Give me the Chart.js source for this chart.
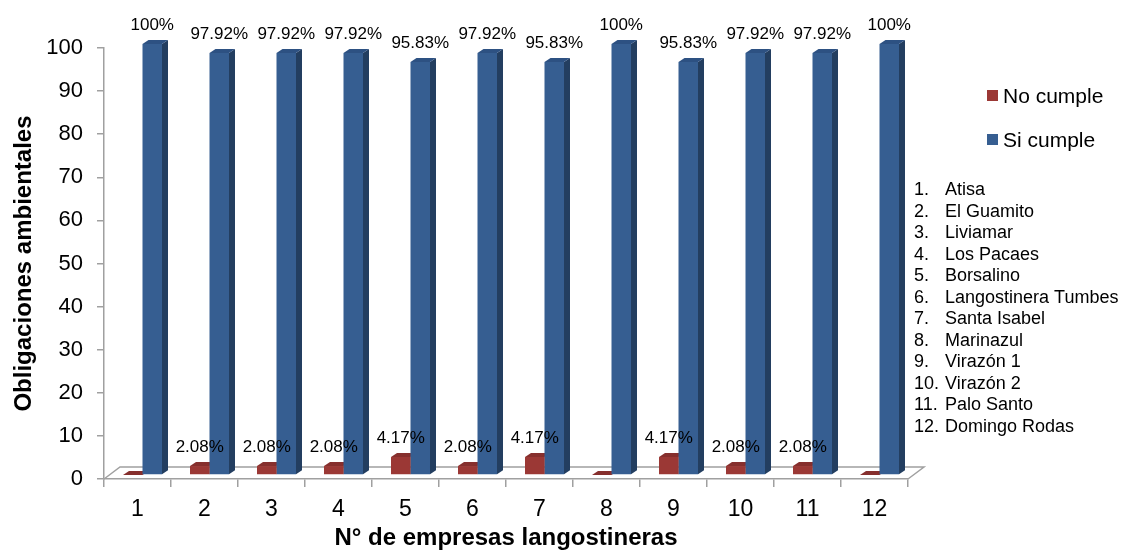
<!DOCTYPE html>
<html>
<head>
<meta charset="utf-8">
<script src="https://cdn.jsdelivr.net/npm/chart.js@4/dist/chart.umd.min.js"></script>
<style>
  html, body { margin: 0; padding: 0; background: #ffffff; }
  canvas { display: block; }
</style>
</head>
<body>
<canvas id="chart" width="1126" height="555"></canvas>
<script>
// Company numbers on the x axis
const categories = ['1', '2', '3', '4', '5', '6', '7', '8', '9', '10', '11', '12'];
// Percentage of environmental obligations per company
const noCumple = [0, 2.08, 2.08, 2.08, 4.17, 2.08, 4.17, 0, 4.17, 2.08, 2.08, 0];
const siCumple = [100, 97.92, 97.92, 97.92, 95.83, 97.92, 95.83, 100, 95.83, 97.92, 97.92, 100];
// Y axis range
const yMin = 0, yMax = 100, yStep = 10;
// Legend entries and company names
const seriesNames = ['No cumple', 'Si cumple'];
const companies = ['Atisa', 'El Guamito', 'Liviamar', 'Los Pacaes', 'Borsalino', 'Langostinera Tumbes',
  'Santa Isabel', 'Marinazul', 'Virazón 1', 'Virazón 2', 'Palo Santo', 'Domingo Rodas'];

const FONT = '"Liberation Sans", Arial, sans-serif';
const AXIS_GRAY = '#A0A0A0';

// depth of each column and of the floor
const DEPTH_X = 6, DEPTH_Y = 4;
const SHIFT_X = 5, SHIFT_Y = -4;
const FLOOR_DX = 16, FLOOR_DY = 12;

const palette = [
  { front: '#9B3835', side: '#6E2725', top: '#862F2D' },
  { front: '#365E91', side: '#233E60', top: '#2D5182' }
];

function fmt(v) {
  return (Math.round(v * 100) / 100).toString() + '%';
}

const columns3d = {
  id: 'columns3d',
  beforeDatasetsDraw(chart) {
    const ctx = chart.ctx;
    const { left, right, bottom } = chart.chartArea;
    // floor of the plot
    ctx.save();
    ctx.strokeStyle = AXIS_GRAY;
    ctx.lineWidth = 1.5;
    ctx.beginPath();
    ctx.moveTo(left, bottom);
    ctx.lineTo(left + FLOOR_DX, bottom - FLOOR_DY);
    ctx.lineTo(right + FLOOR_DX, bottom - FLOOR_DY);
    ctx.lineTo(right, bottom);
    ctx.stroke();
    ctx.restore();

    // side and top faces, fronts are drawn by the bar controller afterwards
    ctx.save();
    ctx.translate(SHIFT_X, SHIFT_Y);
    chart.data.datasets.forEach((ds, i) => {
      const meta = chart.getDatasetMeta(i);
      const col = palette[i];
      meta.data.forEach(bar => {
        const { x, y, base, width } = bar.getProps(['x', 'y', 'base', 'width'], true);
        const l = x - width / 2, r = x + width / 2;
        ctx.fillStyle = col.side;
        ctx.beginPath();
        ctx.moveTo(r, y);
        ctx.lineTo(r + DEPTH_X, y - DEPTH_Y);
        ctx.lineTo(r + DEPTH_X, base - DEPTH_Y);
        ctx.lineTo(r, base);
        ctx.closePath();
        ctx.fill();
        ctx.fillStyle = col.top;
        ctx.beginPath();
        ctx.moveTo(l, y);
        ctx.lineTo(l + DEPTH_X, y - DEPTH_Y);
        ctx.lineTo(r + DEPTH_X, y - DEPTH_Y);
        ctx.lineTo(r, y);
        ctx.closePath();
        ctx.fill();
      });
    });
  },
  afterDatasetsDraw(chart) {
    const ctx = chart.ctx;
    ctx.restore();
    // value labels
    ctx.save();
    ctx.font = '17px ' + FONT;
    ctx.fillStyle = '#000000';
    ctx.textAlign = 'center';
    ctx.textBaseline = 'alphabetic';
    chart.data.datasets.forEach((ds, i) => {
      const meta = chart.getDatasetMeta(i);
      meta.data.forEach((bar, j) => {
        const v = ds.data[j];
        if (!v) return;
        const { x, y } = bar.getProps(['x', 'y'], true);
        ctx.fillText(fmt(v), x + SHIFT_X, y + SHIFT_Y - 14);
      });
    });
    ctx.restore();
  },
  afterDraw(chart) {
    const ctx = chart.ctx;
    ctx.save();
    // legend
    ctx.font = '21px ' + FONT;
    ctx.fillStyle = '#000000';
    ctx.textAlign = 'left';
    ctx.textBaseline = 'alphabetic';
    const legendY = [103, 147];
    seriesNames.forEach((name, i) => {
      ctx.fillStyle = palette[i].front;
      ctx.fillRect(987, legendY[i] - 13, 11, 11);
      ctx.fillStyle = '#000000';
      ctx.fillText(name, 1003, legendY[i]);
    });
    // company list
    ctx.font = '18px ' + FONT;
    companies.forEach((name, i) => {
      const yy = 195 + i * 21.5;
      ctx.fillText((i + 1) + '.', 914, yy);
      ctx.fillText(name, 945, yy);
    });
    ctx.restore();
  }
};

new Chart(document.getElementById('chart'), {
  type: 'bar',
  data: {
    labels: categories,
    datasets: [
      { label: seriesNames[0], data: noCumple, backgroundColor: palette[0].front, borderWidth: 0, clip: false },
      { label: seriesNames[1], data: siCumple, backgroundColor: palette[1].front, borderWidth: 0, clip: false }
    ]
  },
  options: {
    responsive: false,
    animation: false,
    events: [],
    layout: { padding: { top: 48, right: 218, left: 0, bottom: 0 } },
    datasets: { bar: { categoryPercentage: 0.582, barPercentage: 1.0 } },
    plugins: { legend: { display: false }, tooltip: { enabled: false } },
    scales: {
      x: {
        afterFit(scale) { scale.height = 76; },
        grid: { display: true, offset: true, drawOnChartArea: false, tickLength: 8, color: AXIS_GRAY, lineWidth: 1.5 },
        border: { display: true, color: AXIS_GRAY, width: 1.5 },
        ticks: { color: '#000000', font: { family: FONT, size: 23 }, padding: 9, maxRotation: 0 },
        title: { display: true, text: 'N° de empresas langostineras', color: '#000000',
          font: { family: FONT, size: 24, weight: 'bold' }, padding: { top: 0, bottom: 2 } }
      },
      y: {
        min: yMin, max: yMax,
        afterFit(scale) { scale.width = 104; },
        grid: { display: true, drawOnChartArea: false, tickLength: 7, color: AXIS_GRAY, lineWidth: 1.5 },
        border: { display: true, color: AXIS_GRAY, width: 1.5 },
        ticks: { stepSize: yStep, color: '#000000', font: { family: FONT, size: 22 }, padding: 14 },
        title: { display: true, text: 'Obligaciones ambientales', color: '#000000',
          font: { family: FONT, size: 24, weight: 'bold' }, padding: { top: 10, bottom: 0 } }
      }
    }
  },
  plugins: [columns3d]
});
</script>
</body>
</html>
